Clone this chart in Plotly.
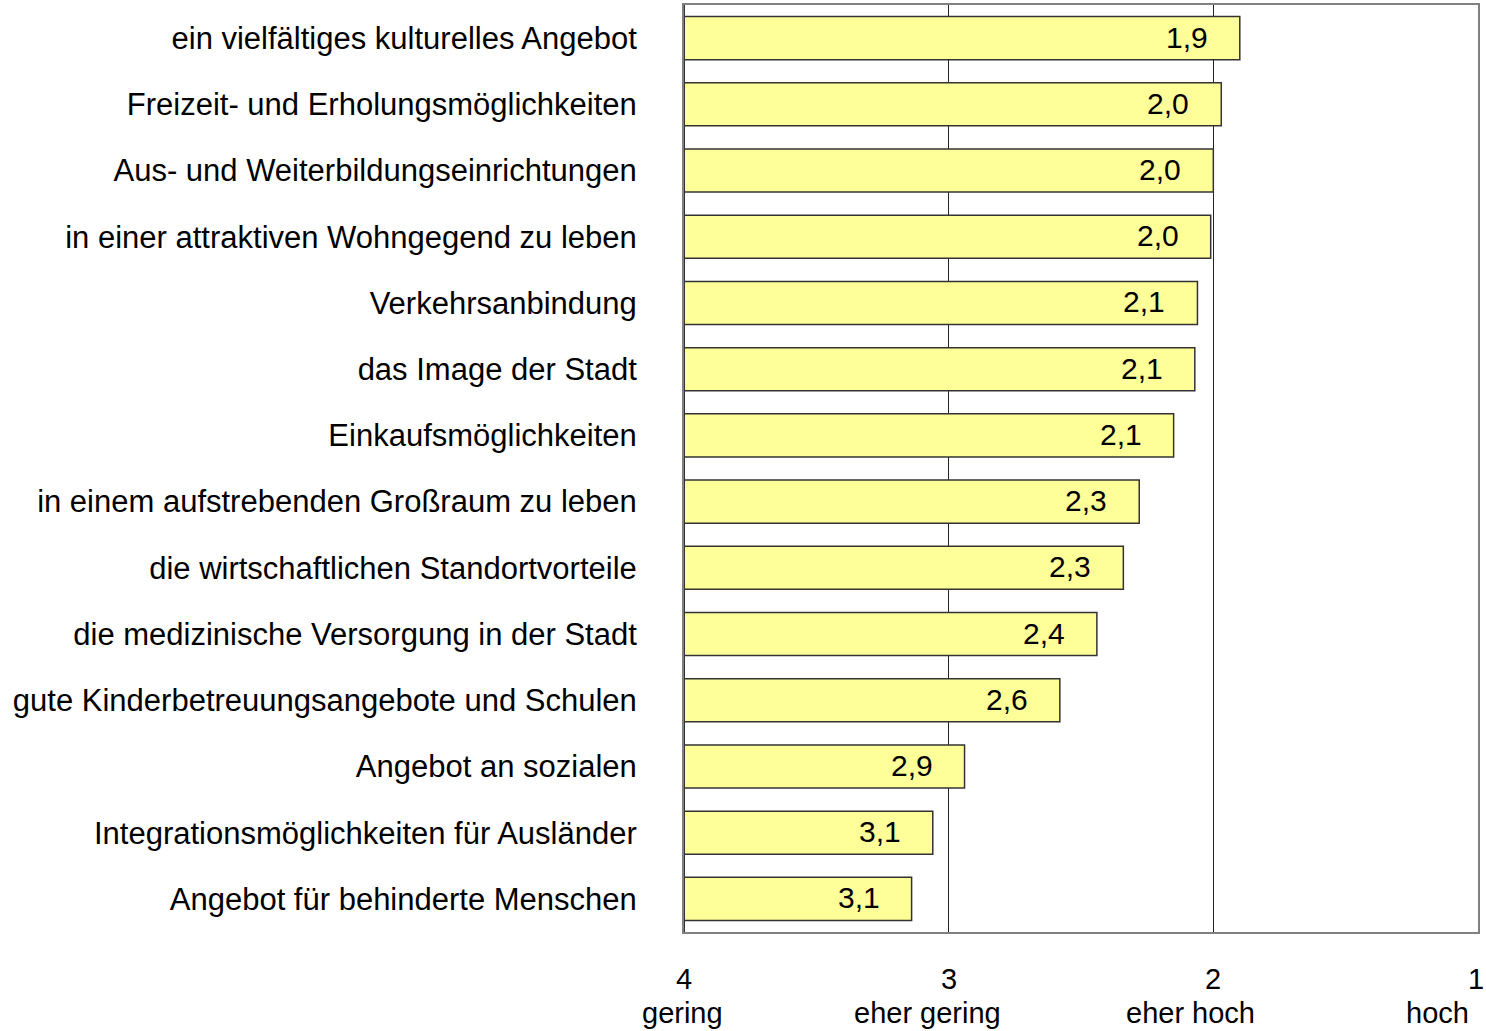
import plotly.graph_objects as go

categories = [
    "ein vielfältiges kulturelles Angebot",
    "Freizeit- und Erholungsmöglichkeiten",
    "Aus- und Weiterbildungseinrichtungen",
    "in einer attraktiven Wohngegend zu leben",
    "Verkehrsanbindung",
    "das Image der Stadt",
    "Einkaufsmöglichkeiten",
    "in einem aufstrebenden Großraum zu leben",
    "die wirtschaftlichen Standortvorteile",
    "die medizinische Versorgung in der Stadt",
    "gute Kinderbetreuungsangebote und Schulen",
    "Angebot an sozialen",
    "Integrationsmöglichkeiten für Ausländer",
    "Angebot für behinderte Menschen",
]
values = [1.90, 1.97, 2.00, 2.01, 2.06, 2.07, 2.15, 2.28, 2.34, 2.44, 2.58, 2.94, 3.06, 3.14]
tick_vals = [4, 3, 2, 1]
tick_numbers = ["4", "3", "2", "1"]
tick_words = ["gering", "eher gering", "eher hoch", "hoch"]
scale_start = 4

FONT = "Liberation Sans, Arial, sans-serif"

fig = go.Figure()
fig.add_trace(go.Bar(
    y=categories,
    x=[v - scale_start for v in values],
    base=scale_start,
    orientation="h",
    width=0.65,
    marker=dict(color="#FFFF99", line=dict(color="#333333", width=1.5)),
    hoverinfo="skip",
))

# value labels
for c, v in zip(categories, values):
    fig.add_annotation(
        x=v, y=c, xref="x", yref="y",
        text=f"{v:.1f}".replace(".", ","),
        showarrow=False, xanchor="right", xshift=-30, yshift=1,
        font=dict(family=FONT, size=30, color="black"),
    )

# tick numbers and words under the axis
num_shift = [0, 0, 0, -2]
word_shift = [-2, -21, -23, -41]
for tv, n, w, ns, ws in zip(tick_vals, tick_numbers, tick_words, num_shift, word_shift):
    fig.add_annotation(
        x=tv, y=0, xref="x", yref="paper",
        text=n, showarrow=False, xanchor="center", yanchor="top",
        yshift=-29, xshift=ns,
        font=dict(family=FONT, size=29, color="black"),
    )
    fig.add_annotation(
        x=tv, y=0, xref="x", yref="paper",
        text=w, showarrow=False, xanchor="center", yanchor="top",
        yshift=-63, xshift=ws,
        font=dict(family=FONT, size=29, color="black"),
    )

fig.update_layout(
    width=1486, height=1031,
    margin=dict(l=684, r=8, t=5, b=99, autoexpand=False),
    paper_bgcolor="white", plot_bgcolor="white",
    showlegend=False,
    bargap=0.35,
    font=dict(family=FONT, size=31, color="black"),
    xaxis=dict(
        range=[4, 1], tickvals=tick_vals, ticktext=tick_numbers,
        showticklabels=False,
        showgrid=True, gridcolor="#222222", gridwidth=1,
        showline=True, linecolor="#808080", linewidth=2, mirror=True,
        zeroline=False, ticks="", automargin=False,
    ),
    yaxis=dict(
        autorange="reversed", categoryorder="array", categoryarray=categories,
        showline=True, linecolor="#808080", linewidth=2, mirror=True,
        showgrid=False, ticks="", ticklabelstandoff=39, automargin=False,
        tickfont=dict(family=FONT, size=31, color="black"),
    ),
)
fig.add_shape(type="line", xref="x", yref="paper", x0=4, x1=4, y0=0, y1=1,
              line=dict(color="#333333", width=2))

fig.write_html(
    "out.html",
    config={"displayModeBar": False},
    post_script="document.body.style.margin='0';document.body.style.overflow='hidden';",
)
